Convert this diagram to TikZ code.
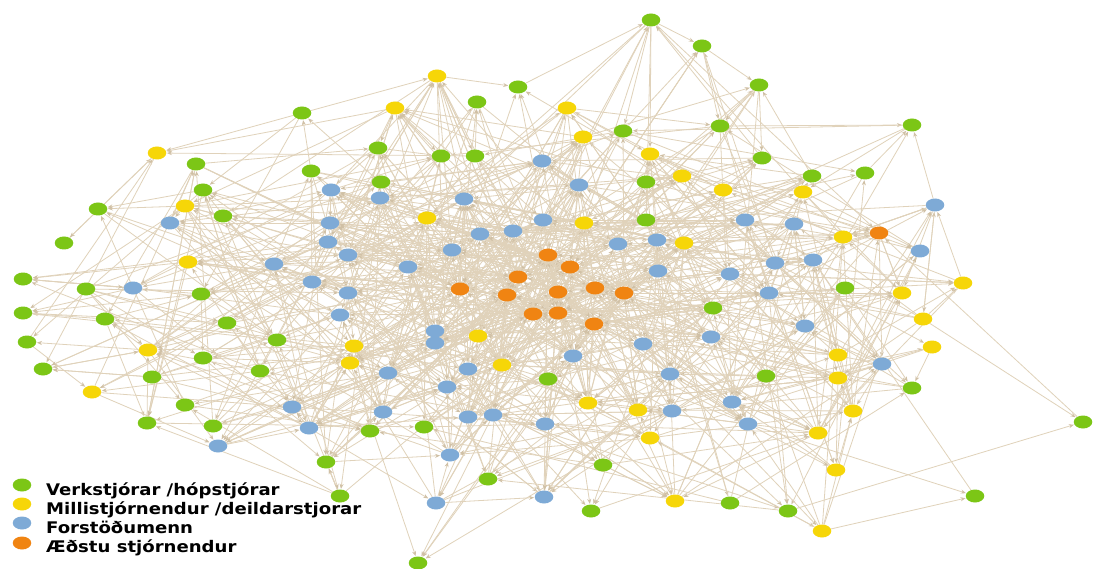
\documentclass[tikz,border=0pt]{standalone}
\usepackage{fontspec}
\newfontfamily\legfont{DejaVu Sans}[FakeStretch=1.13]
\usetikzlibrary{shapes.geometric,arrows.meta,backgrounds}
\definecolor{cG}{RGB}{124,198,22}
\definecolor{cY}{RGB}{246,214,8}
\definecolor{cB}{RGB}{126,170,214}
\definecolor{cO}{RGB}{240,132,18}
\definecolor{edgec}{RGB}{224,210,186}
\definecolor{tipc}{RGB}{208,192,165}
\tikzset{
  dot/.style={ellipse, minimum width=18.5pt, minimum height=13pt, inner sep=0pt, draw=none},
  edge/.style={draw=edgec, line width=0.8pt, -{Stealth[length=5pt,width=4pt,color=tipc]}, shorten >=0.5pt},
  leg/.style={anchor=base west, inner sep=0pt, font=\legfont\bfseries\fontsize{16}{16}\selectfont}
}
\newcommand\mkname[2]{\edef#1{\ifnum#2<57 g\the\numexpr#2\relax\else\ifnum#2<92 y\the\numexpr#2-56\relax\else\ifnum#2<146 b\the\numexpr#2-91\relax\else o\the\numexpr#2-145\relax\fi\fi\fi}}
\newcommand\randedges[5]{% from #1 to #2, #3 tries, threshold #4, lower bound of target #5
  \foreach \i in {#1,...,#2}{
    \foreach \k in {1,...,#3}{
      \pgfmathrandominteger{\j}{#5}{157}
      \mkname\sa{\i}\mkname\sb{\j}
      \pgfpointanchor{\sa}{center}\pgfgetlastxy{\xa}{\ya}
      \pgfpointanchor{\sb}{center}\pgfgetlastxy{\xb}{\yb}
      \pgfmathsetmacro\dd{veclen(\xa-\xb,\ya-\yb)}
      \pgfmathrandominteger{\dir}{0}{1}
      \ifdim\dd pt<#4pt \ifnum\i=\j\else
        \ifnum\dir=0 \draw[edge] (\sa) -- (\sb);\else\draw[edge] (\sb) -- (\sa);\fi
      \fi\fi
    }
  }}
\begin{document}
\begin{tikzpicture}[x=1pt,y=-1pt]
\useasboundingbox (0,0) rectangle (1094,569);
% green nodes
\foreach \x/\y [count=\i] in {651/20,702/46,759/85,912/125,518/87,477/102,302/113,623/131,720/126,762/158,
812/176,865/173,196/164,203/190,378/148,441/156,475/156,311/171,381/182,646/182,
98/209,223/216,64/243,646/220,23/279,86/289,201/294,23/313,105/319,227/323,
845/288,713/308,277/340,27/342,203/358,152/377,260/371,43/369,548/379,766/376,
912/388,185/405,147/423,213/426,370/431,424/427,1083/422,326/462,603/465,488/479,
340/496,591/511,730/503,788/511,975/496,418/563}
  \node[dot,fill=cG] (g\i) at (\x,\y) {};
% yellow nodes
\foreach \x/\y [count=\i] in {437/76,395/108,567/108,583/137,157/153,650/154,682/176,723/190,803/192,185/206,
427/218,584/223,684/243,843/237,188/262,963/283,902/293,923/319,478/336,148/350,
354/346,350/363,932/347,838/355,502/365,838/378,92/392,588/403,638/410,853/411,
818/433,650/438,836/470,675/501,822/531}
  \node[dot,fill=cY] (y\i) at (\x,\y) {};
% blue nodes
\foreach \x/\y [count=\i] in {542/161,579/185,331/190,380/198,464/199,935/205,170/223,330/223,543/220,745/220,
794/224,513/231,480/234,618/244,657/240,328/242,452/250,920/251,348/255,274/264,
408/267,658/271,730/274,775/263,813/260,133/288,312/282,348/293,769/293,340/315,
805/326,435/331,435/343,711/337,643/344,573/356,882/364,388/373,468/369,670/374,
447/387,732/402,292/407,383/412,468/417,493/415,672/411,748/424,309/428,545/424,
218/446,450/455,544/497,436/503}
  \node[dot,fill=cB] (b\i) at (\x,\y) {};
% orange nodes
\foreach \x/\y [count=\i] in {548/255,570/267,518/277,460/289,507/295,558/292,595/288,624/293,533/314,558/313,
594/324,879/233}
  \node[dot,fill=cO] (o\i) at (\x,\y) {};
% legend
\node[dot,fill=cG] (lg1) at (22,485) {};
\node[dot,fill=cY] (lg2) at (22,504) {};
\node[dot,fill=cB] (lg3) at (22,523) {};
\node[dot,fill=cO] (lg4) at (22,543) {};
\node[leg] (lt1) at (46,495) {Verkstjórar /hópstjórar};
\node[leg] (lt2) at (46,514) {Millistjórnendur /deildarstjorar};
\node[leg] (lt3) at (46,533) {Forstöðumenn};
\node[leg] (lt4) at (46,552) {Æðstu stjórnendur};
\begin{pgfonlayer}{background}
\fill[white] (0,0) rectangle (1094,569);
% distinctive explicit edges
\foreach \a/\b in {y12/g1,g1/g2,g2/g3,g8/g2,g9/g4,g12/g4,g11/g3,y18/g47,g54/g47,b48/g55,b46/g56,
g7/y5,g7/y1,y1/g5,y10/g21,b26/g25,g29/g28,y20/g34,y20/g38,g37/y27,g20/g3,b9/g1}
  \draw[edge] (\a) -- (\b);
\pgfmathsetseed{4242}
\randedges{1}{157}{8}{320}{1}
\randedges{57}{157}{7}{260}{57}
\randedges{146}{157}{10}{420}{1}
\end{pgfonlayer}
\end{tikzpicture}
\end{document}
